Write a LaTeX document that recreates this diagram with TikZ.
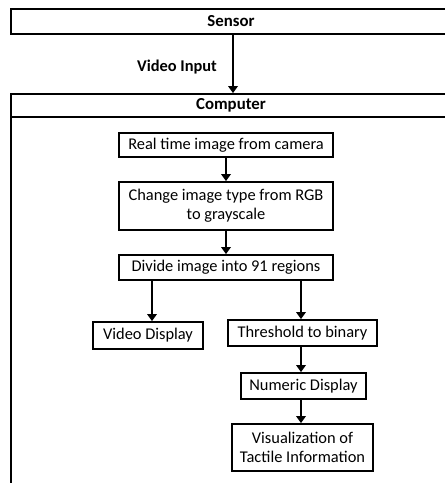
\documentclass[tikz,border=0pt]{standalone}
\usepackage{fontspec}
\setmainfont{Carlito}
\usetikzlibrary{arrows.meta}
\begin{document}
\begin{tikzpicture}[x=1pt,y=-1pt,
  box/.style={draw,line width=1.8pt,inner sep=0pt,align=center,font=\fontsize{16.4}{19}\selectfont},
  head/.style={draw,line width=1.8pt,inner sep=0pt,font=\bfseries\fontsize{16.8}{19}\selectfont},
  arr/.style={line width=2.8pt,-{Triangle[length=7pt,width=9.5pt]}}]
\useasboundingbox (0,0) rectangle (445,483);
\clip (0,0) rectangle (445,483);
\node[head,minimum width=440pt,minimum height=25pt] (sensor) at (231,21.5) {Sensor};
\draw[line width=1.8pt] (11,94) rectangle (451,520);
\node[head,minimum width=440pt,minimum height=23pt] (comp) at (231,105.5) {Computer};
\draw[arr] ([xshift=2pt]sensor.south) -- ([xshift=2pt]comp.north);
\node[font=\bfseries\fontsize{16.4}{19}\selectfont] (vin) at (177,67) {Video Input};
\node[box,minimum width=214pt,minimum height=24pt] (real) at (226,145) {Real time image from camera};
\node[box,minimum width=214pt,minimum height=48pt] (change) at (226,206) {Change image type from RGB\\to grayscale};
\node[box,minimum width=214pt,minimum height=25pt] (divide) at (226,267.5) {Divide image into 91 regions};
\node[box,minimum width=110pt,minimum height=27pt] (vd) at (148,335.5) {Video Display};
\node[box,minimum width=149pt,minimum height=26pt] (thr) at (302.5,333) {Threshold to binary};
\node[box,minimum width=125pt,minimum height=26pt] (num) at (303.5,386) {Numeric Display};
\node[box,minimum width=141pt,minimum height=47pt] (vis) at (302.5,447.5) {Visualization of\\Tactile Information};
\draw[arr] (real) -- (change);
\draw[arr] (change) -- (divide);
\draw[arr] ([xshift=4pt]vd.north |- divide.south) -- ([xshift=4pt]vd.north);
\draw[arr] ([xshift=-1.5pt]thr.north |- divide.south) -- ([xshift=-1.5pt]thr.north);
\draw[arr] ([xshift=-1.5pt]thr.south) -- ([xshift=-1.5pt]thr.south |- num.north);
\draw[arr] ([xshift=-1.5pt]thr.south |- num.south) -- ([xshift=-1.5pt]thr.south |- vis.north);
\end{tikzpicture}
\end{document}
